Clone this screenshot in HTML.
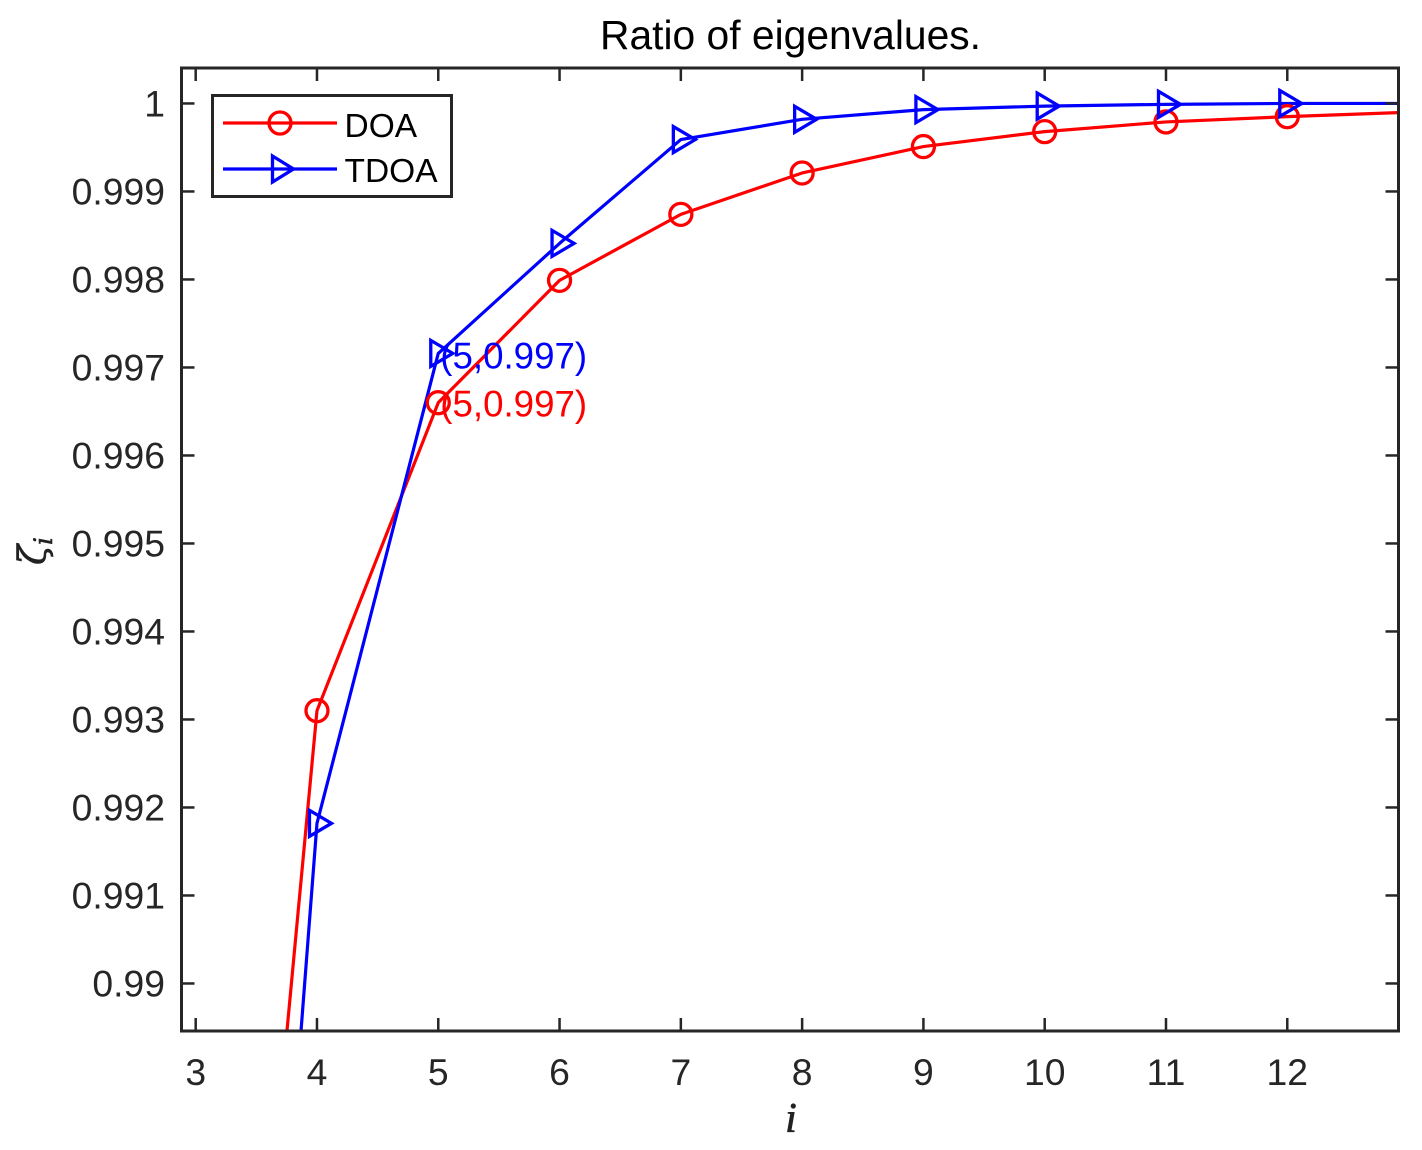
<!DOCTYPE html>
<html lang="en">
<head>
<meta charset="utf-8">
<title>Ratio of eigenvalues</title>
<style>
html,body{margin:0;padding:0;background:#fff;width:1422px;height:1150px;overflow:hidden}
svg{display:block}
text{font-family:"Liberation Sans",sans-serif}
</style>
</head>
<body>
<svg id="chart" xmlns="http://www.w3.org/2000/svg" width="1422" height="1150" viewBox="0 0 1422 1150">
  <rect x="181.5" y="68" width="1217" height="963" fill="#fff"/>
  <g id="series"></g>
  <g id="annotations"></g>
  <g id="axes"></g>
  <rect x="181.5" y="68" width="1217" height="963" fill="none" stroke="#262626" stroke-width="3"/>
  <text x="790.5" y="49" font-size="40.8" text-anchor="middle" fill="#000">Ratio of eigenvalues.</text>
  <text x="791" y="1132" font-size="42" text-anchor="middle" fill="#222" stroke="#222" stroke-width="0.7" style="font-family:'Liberation Serif',serif;font-style:italic">i</text>
  <text transform="translate(45,551) rotate(-90)" font-size="37" text-anchor="middle" fill="#222" stroke="#222" stroke-width="0.6" style="font-family:'DejaVu Serif',serif;font-style:italic">ζ<tspan font-size="25" dy="7">i</tspan></text>
  <g>
    <rect x="212.5" y="95.5" width="239" height="101" fill="#fff" stroke="#262626" stroke-width="3"/>
    <g>
      <line x1="223" y1="123" x2="337" y2="123" stroke="#f00" stroke-width="3.2"/>
      <circle cx="280" cy="123" r="11" fill="none" stroke="#f00" stroke-width="3.3"/>
      <text x="344.5" y="137" font-size="33.5" fill="#000">DOA</text>
    </g>
    <g>
      <line x1="223" y1="169" x2="337" y2="169" stroke="#00f" stroke-width="3.2"/>
      <polygon points="272.5,156 293.5,169 272.5,182" fill="none" stroke="#00f" stroke-width="3.3"/>
      <text x="344.5" y="182" font-size="33.5" fill="#000">TDOA</text>
    </g>
  </g>
</svg>
<script>
const categories = [3, 4, 5, 6, 7, 8, 9, 10, 11, 12, 13];
const doaValues = [0.9784, 0.99310, 0.99660, 0.99799, 0.99874, 0.99921, 0.99951, 0.99968, 0.99979, 0.99985, 0.99990];
const tdoaValues = [0.9739, 0.99182, 0.99716, 0.99841, 0.99959, 0.99982, 0.99993, 0.99997, 0.99999, 1.0, 1.0];
const xTicks = [3, 4, 5, 6, 7, 8, 9, 10, 11, 12];
const yTicks = [0.99, 0.991, 0.992, 0.993, 0.994, 0.995, 0.996, 0.997, 0.998, 0.999, 1];
const yTickLabels = ['0.99', '0.991', '0.992', '0.993', '0.994', '0.995', '0.996', '0.997', '0.998', '0.999', '1'];
const annotationCategory = 5;
const annotationText = '(5,0.997)';

const NS = 'http://www.w3.org/2000/svg';
const plot = {left: 181.5, right: 1398.5, top: 68, bottom: 1031};
const xDomain = [2.883, 12.917];
const yDomain = [0.98946, 1.000403];
const xScale = v => plot.left + (v - xDomain[0]) / (xDomain[1] - xDomain[0]) * (plot.right - plot.left);
const yScale = v => plot.bottom - (v - yDomain[0]) / (yDomain[1] - yDomain[0]) * (plot.bottom - plot.top);

function make(tag, attrs, parent) {
  const el = document.createElementNS(NS, tag);
  for (const k in attrs) el.setAttribute(k, attrs[k]);
  parent.appendChild(el);
  return el;
}

const axes = document.getElementById('axes');
const seriesLayer = document.getElementById('series');
const annotationLayer = document.getElementById('annotations');
const TICK = 13;
const axisColor = '#262626';

xTicks.forEach(t => {
  const x = xScale(t);
  const bottomTick = make('line', {x1: x, x2: x, y1: plot.bottom, y2: plot.bottom - TICK, stroke: axisColor, 'stroke-width': 2.5}, axes);
  
  
  const topTick = make('line', {x1: x, x2: x, y1: plot.top, y2: plot.top + TICK, stroke: axisColor, 'stroke-width': 2.5}, axes);
  
  
  const label = make('text', {x: x, y: 1085, 'font-size': 37.3, 'text-anchor': 'middle', fill: axisColor}, axes);
  
  
  label.textContent = String(t);
});

yTicks.forEach((t, i) => {
  const y = yScale(t);
  const leftTick = make('line', {x1: plot.left, x2: plot.left + TICK, y1: y, y2: y, stroke: axisColor, 'stroke-width': 2.5}, axes);
  
  
  const rightTick = make('line', {x1: plot.right, x2: plot.right - TICK, y1: y, y2: y, stroke: axisColor, 'stroke-width': 2.5}, axes);
  
  
  const label = make('text', {x: 165, y: y + 13, 'font-size': 37.3, 'text-anchor': 'end', fill: axisColor}, axes);
  
  
  label.textContent = yTickLabels[i];
});

// Trim the segments that leave the plot so the lines end exactly at the axes.
function linePoints(values) {
  const raw = categories.map((c, i) => [xScale(c), yScale(values[i])]);
  const out = [];
  raw.forEach((p, i) => {
    const inside = p[0] >= plot.left && p[0] <= plot.right && p[1] >= plot.top && p[1] <= plot.bottom;
    if (inside) { out.push(p); return; }
    const q = i > 0 && raw[i - 1][0] >= plot.left && raw[i - 1][1] <= plot.bottom ? raw[i - 1] : raw[i + 1];
    if (!q) return;
    let t = 1;
    if (p[1] > plot.bottom) t = Math.min(t, (plot.bottom - q[1]) / (p[1] - q[1]));
    if (p[0] > plot.right) t = Math.min(t, (plot.right - q[0]) / (p[0] - q[0]));
    if (p[0] < plot.left) t = Math.min(t, (plot.left - q[0]) / (p[0] - q[0]));
    out.push([q[0] + (p[0] - q[0]) * t, q[1] + (p[1] - q[1]) * t]);
  });
  return out.map(p => p[0].toFixed(2) + ',' + p[1].toFixed(2)).join(' ');
}

const doaLine = make('polyline', {points: linePoints(doaValues), fill: 'none', stroke: '#f00', 'stroke-width': 3.2, 'stroke-linejoin': 'round'}, seriesLayer);



const tdoaLine = make('polyline', {points: linePoints(tdoaValues), fill: 'none', stroke: '#00f', 'stroke-width': 3.2, 'stroke-linejoin': 'round'}, seriesLayer);



categories.forEach((c, i) => {
  if (c < 4 || c > 12) return;
  const x = xScale(c);
  const yDoa = yScale(doaValues[i]);
  const circle = make('circle', {cx: x, cy: yDoa, r: 11, fill: 'none', stroke: '#f00', 'stroke-width': 3.3}, seriesLayer);
  
  
  const yT = yScale(tdoaValues[i]);
  const pts = [[x - 7.5, yT - 13], [x + 14.5, yT], [x - 7.5, yT + 13]].map(p => p[0].toFixed(2) + ',' + p[1].toFixed(2)).join(' ');
  const tri = make('polygon', {points: pts, fill: 'none', stroke: '#00f', 'stroke-width': 3.3}, seriesLayer);
  
  
});

const annotationIndex = categories.indexOf(annotationCategory);
const tdoaNote = make('text', {x: xScale(annotationCategory) + 2, y: yScale(tdoaValues[annotationIndex]) + 15, 'font-size': 36.7, fill: '#00f'}, annotationLayer);


tdoaNote.textContent = annotationText;
const doaNote = make('text', {x: xScale(annotationCategory) + 2, y: yScale(doaValues[annotationIndex]) + 14, 'font-size': 36.7, fill: '#f00'}, annotationLayer);


doaNote.textContent = annotationText;
</script>
</body>
</html>
